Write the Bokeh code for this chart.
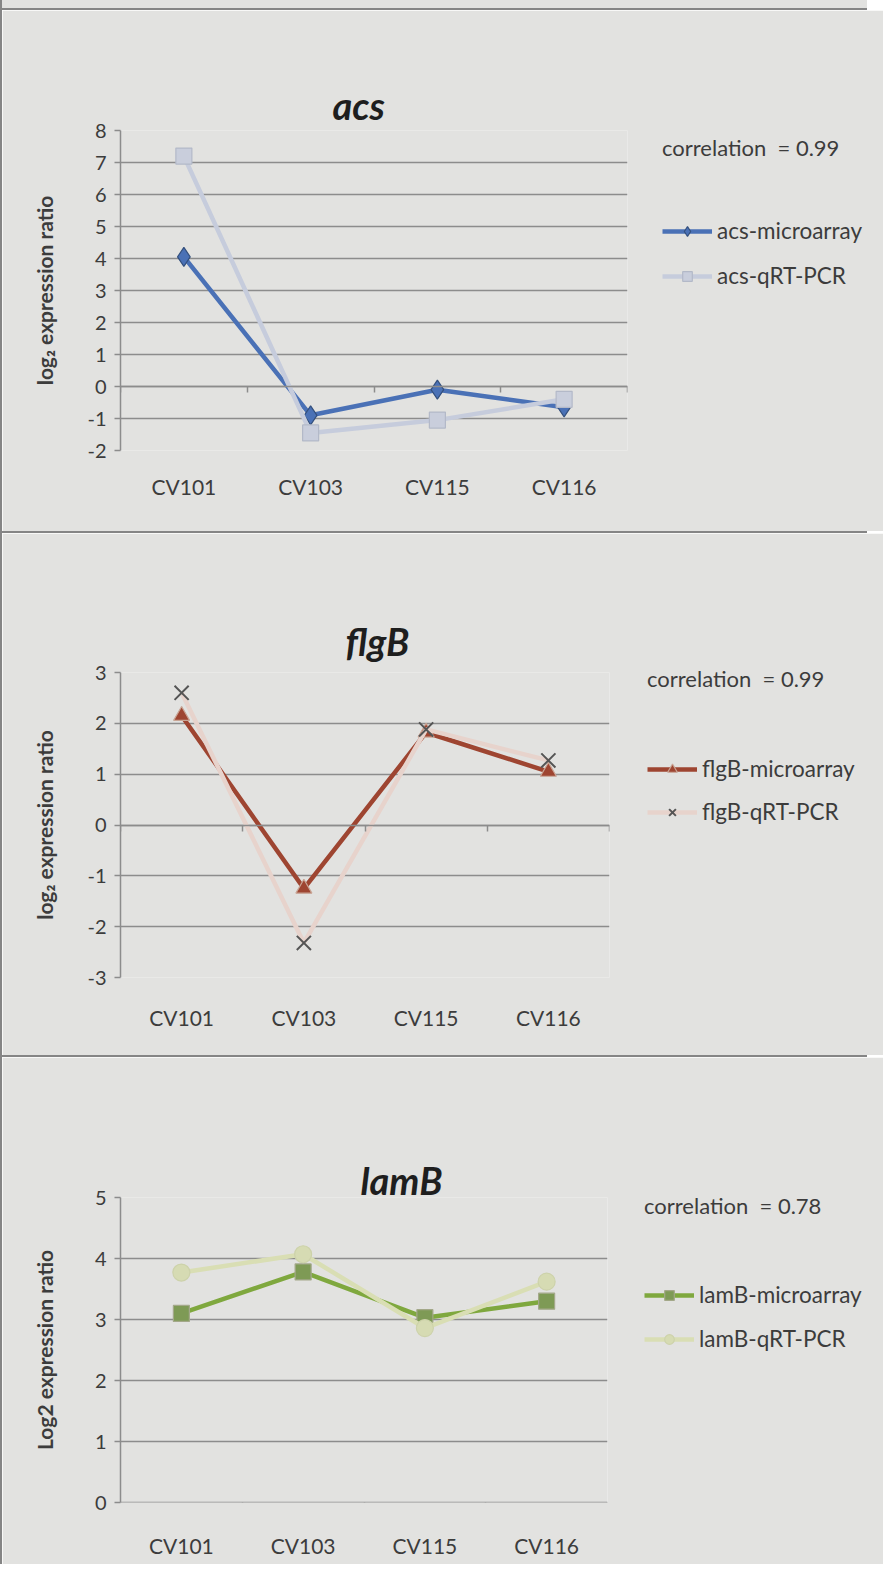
from bokeh.plotting import figure
from bokeh.models import (Range1d, LinearAxis, FixedTicker, CustomJSTickFormatter,
                          Legend, LegendItem, Div)
from bokeh.layouts import row, column
from bokeh.embed import file_html
from bokeh.resources import INLINE

# ---------------- data ----------------
categories = ["CV101", "CV103", "CV115", "CV116"]

acs_microarray = [4.05, -0.9, -0.1, -0.65]
acs_qrtpcr = [7.2, -1.45, -1.05, -0.4]

flgb_microarray = [2.15, -1.25, 1.82, 1.05]
flgb_qrtpcr = [2.6, -2.32, 1.88, 1.27]

lamb_microarray = [3.1, 3.78, 3.03, 3.3]
lamb_qrtpcr = [3.77, 4.07, 2.86, 3.62]

acs_yticks = [-2, -1, 0, 1, 2, 3, 4, 5, 6, 7, 8]
flgb_yticks = [-3, -2, -1, 0, 1, 2, 3]
lamb_yticks = [0, 1, 2, 3, 4, 5]

correlation_labels = ["correlation\u00a0\u00a0= 0.99",
                      "correlation\u00a0\u00a0= 0.99",
                      "correlation\u00a0\u00a0= 0.78"]

# ---------------- style ----------------
BG = "#e2e2e0"
GRID = "#8c8c8c"
TXT = "#3c3c3c"
FRAME = "#858585"
FONT = "Lato"


def make_panel(gene, micro, qrt, yticks, ylabel, corr_text, frame, borders,
               micro_style, qrt_style, title_offset, title_standoff, legend_loc,
               legend_margin, legend_spacing, corr_standoff, ylabel_standoff,
               xlabel_standoff):
    FW, FH = frame
    L, T, B = borders
    n = len(categories)
    xs = [i + 0.5 for i in range(n)]
    p = figure(frame_width=FW, frame_height=FH,
               x_range=Range1d(0, n), y_range=Range1d(yticks[0], yticks[-1]),
               output_backend="svg", toolbar_location=None,
               min_border_left=L, min_border_right=0,
               min_border_top=T, min_border_bottom=B,
               background_fill_color=BG, border_fill_color=BG,
               outline_line_color=None)

    # title
    p.title.text = gene
    p.title.align = "left"
    p.title.offset = title_offset
    p.title.standoff = title_standoff
    p.title.text_font = FONT
    p.title.text_font_style = "bold italic"
    p.title.text_font_size = "38px"
    p.title.text_color = "#1e1e1e"

    # y axis
    ya = p.yaxis[0]
    ya.ticker = FixedTicker(ticks=yticks)
    ya.formatter = CustomJSTickFormatter(code="return tick.toString();")
    ya.axis_line_color = GRID
    ya.axis_line_width = 1.5
    ya.major_tick_line_color = GRID
    ya.major_tick_line_width = 1.5
    ya.major_tick_out = 6
    ya.major_tick_in = 0
    ya.minor_tick_line_color = None
    ya.major_label_standoff = 8
    ya.major_label_text_font = FONT
    ya.major_label_text_font_size = "20px"
    ya.major_label_text_color = TXT
    ya.axis_label = ylabel
    ya.axis_label_text_font = FONT
    ya.axis_label_text_font_size = "21px"
    ya.axis_label_text_font_style = "bold"
    ya.axis_label_text_color = TXT
    ya.axis_label_standoff = ylabel_standoff

    p.ygrid.ticker = FixedTicker(ticks=yticks)
    p.ygrid.grid_line_color = GRID
    p.ygrid.grid_line_width = 1.5
    p.xgrid.visible = False

    # x axis line through zero with category-boundary ticks
    xa = p.xaxis[0]
    xa.ticker = FixedTicker(ticks=list(range(n + 1)))
    xa.formatter = CustomJSTickFormatter(code="return '';")
    xa.fixed_location = 0
    xa.axis_line_color = GRID
    xa.axis_line_width = 1.5
    xa.major_tick_line_color = GRID
    xa.major_tick_line_width = 1.5
    xa.major_tick_out = 6
    xa.major_tick_in = 0
    xa.minor_tick_line_color = None
    xa.major_label_text_font_size = "10px"

    # category labels at the bottom
    lab = LinearAxis(ticker=FixedTicker(ticks=xs),
                     formatter=CustomJSTickFormatter(args=dict(cats=categories),
                                                     code="return cats[Math.floor(tick)];"),
                     axis_line_color=None, major_tick_line_color=None,
                     minor_tick_line_color=None, major_tick_out=0, major_tick_in=0,
                     major_label_standoff=xlabel_standoff,
                     major_label_text_font=FONT, major_label_text_font_size="21px",
                     major_label_text_color=TXT)
    p.add_layout(lab, "below")

    # series
    l1 = p.line(xs, micro, line_color=micro_style["line"], line_width=4.5)
    s1 = p.scatter(xs, micro, marker=micro_style["marker"], size=micro_style["size"],
                   fill_color=micro_style["fill"], line_color=micro_style["edge"],
                   line_width=1.2)
    l2 = p.line(xs, qrt, line_color=qrt_style["line"], line_width=4.5)
    s2 = p.scatter(xs, qrt, marker=qrt_style["marker"], size=qrt_style["size"],
                   fill_color=qrt_style["fill"], line_color=qrt_style["edge"],
                   line_width=qrt_style.get("lw", 1.2))

    legend = Legend(items=[LegendItem(label=f"{gene}-microarray", renderers=[l1, s1]),
                           LegendItem(label=f"{gene}-qRT-PCR", renderers=[l2, s2])],
                    title=corr_text, title_text_font=FONT, title_text_font_size="22px",
                    title_text_font_style="normal", title_text_color=TXT,
                    title_standoff=corr_standoff,
                    location=legend_loc, orientation="vertical",
                    glyph_width=50, glyph_height=24, label_height=24,
                    spacing=legend_spacing, padding=0, margin=legend_margin,
                    border_line_alpha=0, background_fill_alpha=0,
                    label_text_font=FONT, label_text_font_size="22.5px",
                    label_text_color=TXT, label_standoff=5)
    p.add_layout(legend, "right")
    return p


p1 = make_panel("acs", acs_microarray, acs_qrtpcr, acs_yticks,
                "log\u2082 expression ratio", correlation_labels[0],
                (507, 320), (108, 120, 81),
                dict(line="#4a71b6", marker="diamond", size=19, fill="#4a71b6", edge="#34507e"),
                dict(line="#c6ccdc", marker="square", size=16, fill="#c9cedc", edge="#b3b9c8"),
                212, 6, (35, 161), 21, 18, 56, 27, 23)

p2 = make_panel("flgB", flgb_microarray, flgb_qrtpcr, flgb_yticks,
                "log\u2082 expression ratio", correlation_labels[1],
                (489, 305), (118, 139, 78),
                dict(line="#9e4531", marker="triangle", size=16, fill="#9e4531", edge="#c9a595"),
                dict(line="#e7d3cc", marker="x", size=20, fill="#555555", edge="#555555", lw=2),
                225, 17, (38, 152), 22, 16, 63, 27, 27)

p3 = make_panel("lamB", lamb_microarray, lamb_qrtpcr, lamb_yticks,
                "Log2 expression ratio", correlation_labels[2],
                (487, 305), (111, 140, 62),
                dict(line="#7fa83e", marker="square", size=16, fill="#7e9a55", edge="#a3a889"),
                dict(line="#d9deb4", marker="circle", size=17, fill="#d6dbb3", edge="#cdd2aa"),
                240, -10, (37, 150), 19, 17, 62, 35, 30)

bar_style = {"background-color": FRAME}
spacer = Div(width=865, height=8, margin=0, styles={"background-color": BG})
top = Div(width=865, height=2, margin=0, styles=bar_style)
sep1 = Div(width=865, height=2, margin=0, styles=bar_style)
sep2 = Div(width=865, height=2, margin=0, styles=bar_style)
left = Div(width=2, height=1564, margin=0, styles=bar_style)

layout = row(left, column(spacer, top, p1, sep1, p2, sep2, p3, spacing=0), spacing=0)

open("out.html", "w").write(file_html(layout, INLINE))
